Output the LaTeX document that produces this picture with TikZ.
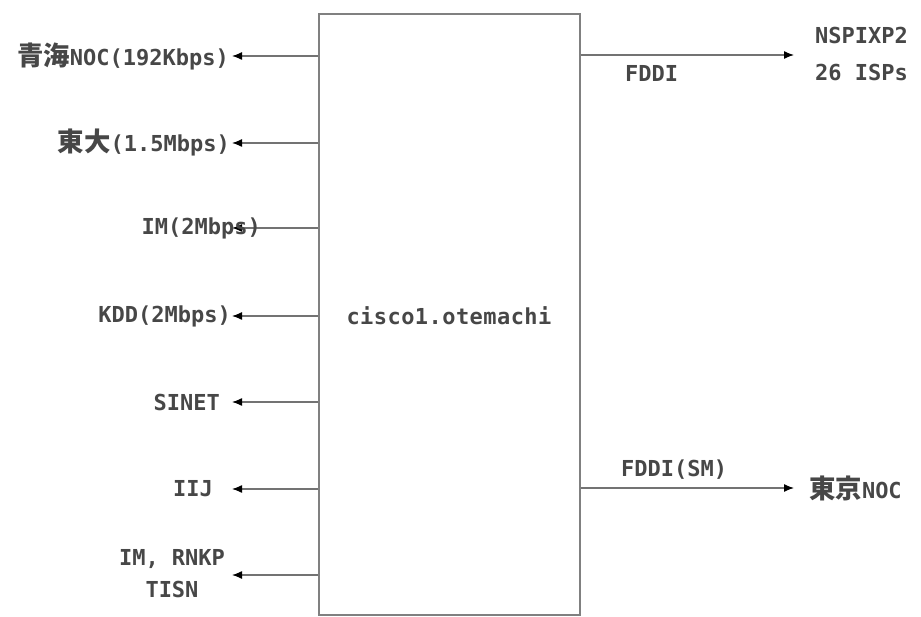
\documentclass[tikz,border=0pt]{standalone}
\usepackage{fontspec}
\setmainfont{DejaVu Sans Mono}
\newfontfamily\jp[Scale=1.2]{Noto Sans CJK JP}
\usetikzlibrary{arrows.meta}
\begin{document}
\begin{tikzpicture}[x=1pt,y=-1pt,
  lab/.style={inner sep=0pt, font=\bfseries\fontsize{22}{24}\selectfont, text=black!72},
  conn/.style={draw=black!55, line width=1.3pt, -{Latex[length=10pt,width=8pt,color=black]}},
  box/.style={draw=black!50, line width=1.6pt, inner sep=0pt, minimum width=261pt, minimum height=601pt}]
\useasboundingbox (0,0) rectangle (921,617);
\node[box, anchor=north west] (box) at (318,13) {};
\node[lab] (cisco) at (449,316) {\addfontfeature{LetterSpace=2}cisco1.otemachi};
% left side tips
\coordinate (t1) at (232,56);
\coordinate (t2) at (232,143);
\coordinate (t3) at (232,228);
\coordinate (t4) at (232,316);
\coordinate (t5) at (232,402);
\coordinate (t6) at (232,489);
\coordinate (t7) at (232,575);
\foreach \i in {1,...,7} {\draw[conn] (box.west |- t\i) -- (t\i);}
\node[lab, anchor=east] (l1) at (229,56) {{\jp 青海}NOC(192Kbps)};
\node[lab, anchor=east] (l2) at (230,143) {{\jp 東大}(1.5Mbps)};
\node[lab, anchor=east] (l3) at (261,228) {IM(2Mbps)};
\node[lab, anchor=east] (l4) at (231,316) {KDD(2Mbps)};
\node[lab, anchor=east] (l5) at (220,402) {SINET};
\node[lab, anchor=east] (l6) at (213,489) {IIJ};
\node[lab, align=center, font=\bfseries\fontsize{22}{32}\selectfont] (l7) at (172,574) {IM, RNKP\\TISN};
% right side
\coordinate (r1) at (794,55);
\coordinate (r2) at (794,488);
\draw[conn] (box.east |- r1) -- (r1);
\draw[conn] (box.east |- r2) -- (r2);
\node[lab, anchor=west] (f1) at (625,73) {FDDI};
\node[lab, anchor=west] (f2) at (621,470) {FDDI(SM)};
\node[lab, anchor=west, align=left, font=\bfseries\fontsize{22}{37}\selectfont] (nsp) at (815,54) {NSPIXP2\\26 ISPs};
\node[lab, anchor=west] (tk) at (809,488) {{\jp 東京}NOC};
\end{tikzpicture}
\end{document}
